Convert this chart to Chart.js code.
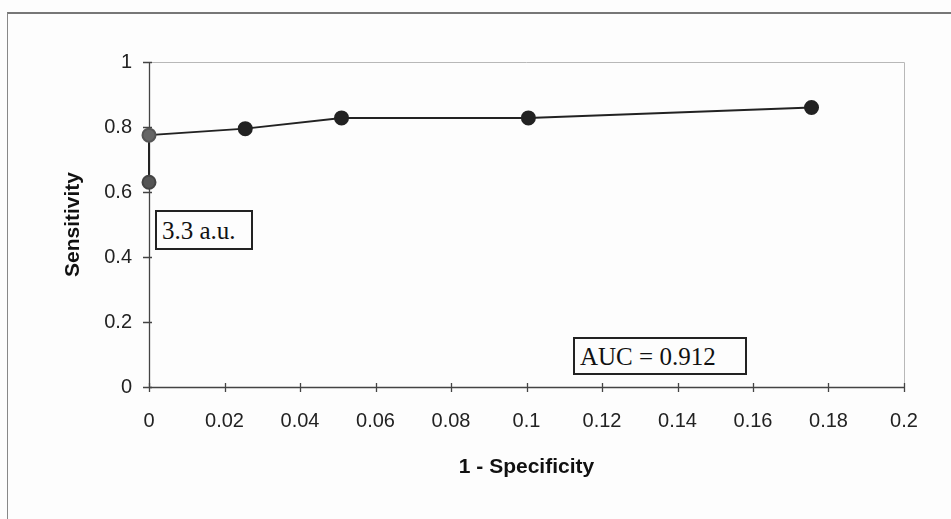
<!DOCTYPE html>
<html>
<head>
<meta charset="utf-8">
<script src="https://cdn.jsdelivr.net/npm/chart.js@4/dist/chart.umd.min.js"></script>
<style>
  html, body { margin: 0; padding: 0; background: #fdfdfd; }
  #wrap { position: relative; width: 951px; height: 519px; overflow: hidden; }
  #frame { position: absolute; left: 7px; top: 12px; width: 950px; height: 520px;
           border-left: 1px solid #888; border-top: 2px solid #777; }
  canvas { position: absolute; left: 0; top: 0; }
  .note { position: absolute; box-sizing: border-box; font-family: "Liberation Serif", "Times New Roman", serif;
          font-size: 25px; color: #111; background: #fdfdfd; border: 2px solid #222;
          padding: 0 5px; white-space: nowrap; }
</style>
</head>
<body>
<div id="wrap">
  <div id="frame"></div>
  <canvas id="roc" width="951" height="519"></canvas>
  <div class="note" style="left:155px; top:210px; width:98px; height:40px; line-height:37px;">3.3 a.u.</div>
  <div class="note" style="left:573px; top:337px; width:174px; height:38px; line-height:35px;">AUC = 0.912</div>
</div>
<script>
/* ROC 곡선 — 1 - Specificity vs Sensitivity */

const fprValues = [0, 0, 0.0255, 0.051, 0.1005, 0.1755];
const sensValues = [0.63, 0.775, 0.795, 0.828, 0.828, 0.86];
const xTicks = ['0', '0.02', '0.04', '0.06', '0.08', '0.1', '0.12', '0.14', '0.16', '0.18', '0.2'];
const yTicks = ['0', '0.2', '0.4', '0.6', '0.8', '1'];

const points = fprValues.map((x, i) => ({ x, y: sensValues[i] }));

// 플롯 영역 테두리 (위/오른쪽은 연한 회색, 왼쪽/아래는 진하게)
const plotBorder = {
    id: 'plotBorder',
    beforeDatasetsDraw(chart) {
        const { ctx, chartArea: a } = chart;
        ctx.save();
        ctx.lineWidth = 1;
        ctx.strokeStyle = '#b8b8b8';
        ctx.beginPath();
        ctx.moveTo(a.left, a.top + 0.5);
        ctx.lineTo(a.right + 0.5, a.top + 0.5);
        ctx.lineTo(a.right + 0.5, a.bottom);
        ctx.stroke();
        ctx.strokeStyle = '#444';
        ctx.lineWidth = 1.3;
        ctx.beginPath();
        ctx.moveTo(a.left + 0.5, a.top);
        ctx.lineTo(a.left + 0.5, a.bottom + 0.5);
        ctx.lineTo(a.right, a.bottom + 0.5);
        ctx.stroke();
        // x축 눈금은 축을 가로지름
        const xs = chart.scales.x;
        ctx.beginPath();
        xs.ticks.forEach(t => {
            const px = Math.round(xs.getPixelForValue(t.value)) + 0.5;
            ctx.moveTo(px, a.bottom - 4);
            ctx.lineTo(px, a.bottom + 5);
        });
        const ys = chart.scales.y;
        ys.ticks.forEach(t => {
            const py = Math.round(ys.getPixelForValue(t.value)) + 0.5;
            ctx.moveTo(a.left - 6, py);
            ctx.lineTo(a.left + 3, py);
        });
        ctx.stroke();
        ctx.restore();
    }
};

new Chart(document.getElementById('roc'), {
    type: 'scatter',
    data: {
        datasets: [{
            data: points,
            showLine: true,
            clip: false,
            borderColor: '#222',
            borderWidth: 2,
            backgroundColor: '#2a2a2a',
            pointBackgroundColor: ['#555', '#666', '#222', '#222', '#222', '#222'],
            pointBorderColor: ['#444', '#555', '#222', '#222', '#222', '#222'],
            pointRadius: 6.5,
            tension: 0
        }]
    },
    options: {
        responsive: false,
        animation: false,
        layout: { padding: { top: 62, right: 47, left: 57, bottom: 35 } },
        plugins: { legend: { display: false }, tooltip: { enabled: false } },
        scales: {
            x: {
                type: 'linear', min: 0, max: 0.2,
                afterFit: s => { s.height = 97; },
                afterBuildTicks: s => { s.ticks = xTicks.map(v => ({ value: parseFloat(v) })); },
                border: { display: false },
                grid: { display: false },
                ticks: {
                    callback: (v, i) => xTicks[i],
                    color: '#222', padding: 14, maxRotation: 0,
                    font: { family: 'Liberation Sans, Arial', size: 20 }
                },
                title: {
                    display: true, text: '1 - Specificity', color: '#111',
                    font: { family: 'Liberation Sans, Arial', size: 21, weight: 'bold' }
                }
            },
            y: {
                type: 'linear', min: 0, max: 1,
                afterFit: s => { s.width = 92; },
                afterBuildTicks: s => { s.ticks = yTicks.map(v => ({ value: parseFloat(v) })); },
                border: { display: false },
                grid: { display: false },
                ticks: {
                    callback: (v, i) => yTicks[i],
                    color: '#222', padding: 9,
                    font: { family: 'Liberation Sans, Arial', size: 20 }
                },
                title: {
                    display: true, text: 'Sensitivity', color: '#111',
                    font: { family: 'Liberation Sans, Arial', size: 21, weight: 'bold' }
                }
            }
        }
    },
    plugins: [plotBorder]
});
</script>
</body>
</html>
